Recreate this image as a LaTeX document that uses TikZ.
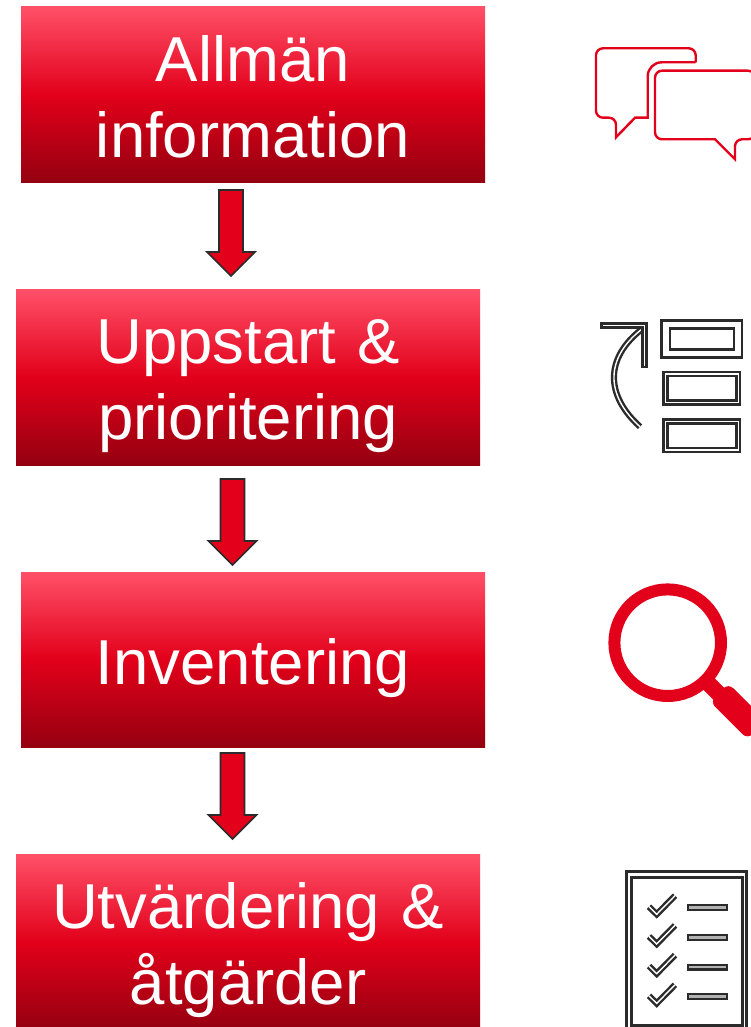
\documentclass[tikz,border=0pt]{standalone}
\usepackage{fontspec}
\setmainfont{Liberation Sans}
\usepackage{xcolor}
\usepackage{tikz}
\usetikzlibrary{positioning}
\definecolor{boxtop}{HTML}{FF5068}
\definecolor{basered}{HTML}{E2001A}
\definecolor{boxbottom}{HTML}{940010}
\definecolor{icondark}{HTML}{2B2B2B}
\newcommand{\toppad}[1]{\rule{0pt}{#1}}

\tikzset{
    stepbox/.style={
        text=white,
        inner sep=0pt,
        outer sep=0pt,
        minimum width=464pt,
        minimum height=175.5pt,
        text width=464pt,
        align=center,
        font=\fontsize{63.5pt}{76pt}\selectfont,
        top color=boxtop,
        bottom color=boxbottom,
        middle color=basered},
    blockarrow/.style={
        draw=icondark,
        fill=basered,
        line width=1.7pt,
        to path={([xshift=-12pt]\tikztostart)
            -- ([xshift=-12pt,yshift=24pt]\tikztotarget)
            -- ([xshift=-24pt,yshift=24pt]\tikztotarget)
            -- (\tikztotarget)
            -- ([xshift=24pt,yshift=24pt]\tikztotarget)
            -- ([xshift=12pt,yshift=24pt]\tikztotarget)
            -- ([xshift=12pt]\tikztostart) -- cycle}},
    redline/.style={draw=basered, line width=2.4pt},
    darkline/.style={draw=icondark, line width=2.8pt},
    darkdouble/.style={draw=icondark, line width=2.4pt, double=white, double distance=1.4pt}
}

\begin{document}
\begin{tikzpicture}[x=1pt, y=-1pt]
    \useasboundingbox (0,0) rectangle (751,1027);

    \node[stepbox] (allman) at (253,94.75) {\toppad{50pt}Allmän\\information};
    \node[stepbox, below=107pt of allman, xshift=-5pt] (uppstart) {\toppad{62pt}Uppstart \&\\prioritering};
    \node[stepbox, below=107pt of uppstart, xshift=5pt] (inventering) {\toppad{62pt}Inventering};
    \node[stepbox, below=107pt of inventering, xshift=-5pt] (utvardering) {\toppad{62pt}Utvärdering \&\\åtgärder};

    \coordinate (a1) at (231,190);
    \coordinate (a2) at (231,276);
    \coordinate (b1) at (232.5,479);
    \coordinate (b2) at (232.5,565);
    \coordinate (c1) at (232.5,753);
    \coordinate (c2) at (232.5,839);
    \draw[blockarrow] (a1) to (a2);
    \draw[blockarrow] (b1) to (b2);
    \draw[blockarrow] (c1) to (c2);

    % speech bubbles
    \draw[redline, rounded corners=7pt] (695.7,62.3) -- (695.7,48.3) -- (596,48.3) -- (596,117.7)
        -- (616,117.7) [sharp corners] -- (616,137.3) -- (635,117.7) -- (647.7,117.7)
        [rounded corners=14pt] -- (647.7,62.3) [sharp corners] -- (695.7,62.3);
    \draw[redline, rounded corners=7pt] (655,90) -- (655,70.7) -- (755,70.7) -- (755,139.3)
        -- (735,139.3) [sharp corners] -- (735,159.3) -- (715,139.3)
        [rounded corners=7pt] -- (655,139.3) -- (655,90);

    % list with arrow
    \draw[darkline] (661.3,320.7) rectangle (742,357.3);
    \draw[darkline] (670,328.7) rectangle (734,349.3);
    \foreach \y in {372,419.3} {
        \draw[darkline] (663.3,\y) rectangle (740,\y+32.7);
        \draw[darkline] (667.3,\y+4) rectangle (736.7,\y+28.7);
    }
    \draw[darkdouble] (641.7,329.3) .. controls (605,358) and (605,395) .. (640,426.7);
    \draw[darkline] (601.7,323.5) -- (646.5,323.5) -- (646.5,367) -- (642.5,367)
        -- (642.5,327.5) -- (601.7,327.5) -- cycle;

    % magnifier
    \draw[draw=basered, line width=12pt] (667.7,642.7) circle (53.3pt);
    \draw[draw=basered, line width=16pt] (705,680) -- (722,697);
    \fill[basered, rounded corners=7pt] (728.3,683.3) -- (765.8,720.8) -- (747.5,739.2) -- (710,701.7) -- cycle;

    % checklist
    \draw[darkline] (626.7,871.7) rectangle (746.7,1032);
    \draw[darkline] (631.7,877.7) rectangle (742.3,1025.5);
    \foreach \y in {0,29.7,59.4,89.1} {
        \draw[darkdouble] (649,906.7+\y) -- (656.7,914.3+\y) -- (675,895.7+\y);
        \draw[darkline, line width=2.2pt, fill=gray!60] (687.7,905.2+\y) rectangle (726.7,910+\y);
    }
\end{tikzpicture}
\end{document}
